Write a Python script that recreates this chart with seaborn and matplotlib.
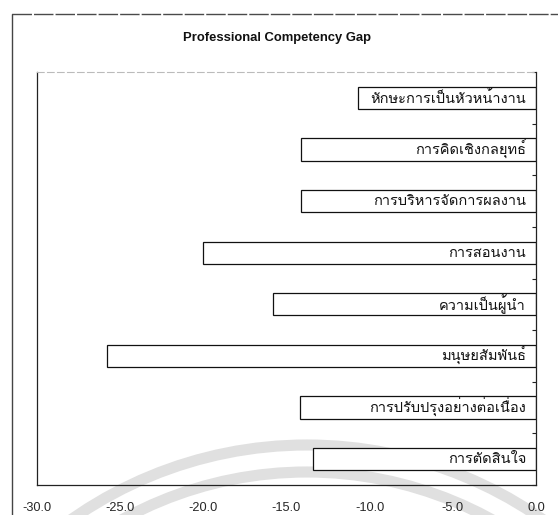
import matplotlib
matplotlib.use("Agg")
import matplotlib.pyplot as plt
from matplotlib import font_manager
from matplotlib.ft2font import FT2Font
from matplotlib.patches import Arc
from matplotlib.lines import Line2D
import seaborn as sns
import pandas as pd

# Competency gap per skill (negative = shortfall), listed top to bottom
categories = [
    "หักษะการเป็นหัวหน้างาน",
    "การคิดเชิงกลยุทธ์",
    "การบริหารจัดการผลงาน",
    "การสอนงาน",
    "ความเป็นผู้นำ",
    "มนุษยสัมพันธ์",
    "การปรับปรุงอย่างต่อเนื่อง",
    "การตัดสินใจ",
]
gaps = [-10.7, -14.1, -14.1, -20.0, -15.8, -25.8, -14.2, -13.4]
x_ticks = [-30.0, -25.0, -20.0, -15.0, -10.0, -5.0, 0.0]
title = "Professional Competency Gap"


def find_thai_families():
    found = []
    for f in font_manager.fontManager.ttflist:
        try:
            if 0x0E01 in FT2Font(f.fname).get_charmap() and f.name not in found:
                found.append(f.name)
        except Exception:
            pass
    return found


thai_fams = find_thai_families()

sns.set_theme(style="white")
plt.rcParams["font.family"] = thai_fams + ["Liberation Sans", "DejaVu Sans"]

df = pd.DataFrame({"skill": categories, "gap": gaps})

W, H = 558, 515
fig = plt.figure(figsize=(W / 100, H / 100), dpi=100)
fig.patch.set_facecolor("white")

# background layer in pixel coordinates for the page decorations
bg = fig.add_axes([0, 0, 1, 1], zorder=-5)
bg.set_xlim(0, W)
bg.set_ylim(H, 0)
bg.axis("off")
for r in (410, 383):
    bg.add_patch(Arc((307, 855), 2 * r, 2 * r, theta1=180, theta2=360,
                     color="#e0e0e0", lw=8, zorder=0))
bg.add_line(Line2D([12, 12], [14, H], color="#444444", lw=1.0))
bg.add_line(Line2D([12, W], [14, 14], color="#4a4a4a", lw=1.0, ls=(0, (14, 1.5))))
bg.text(277, 38, title, ha="center", va="center", fontsize=9.4,
        fontweight="bold", family=["Liberation Sans", "DejaVu Sans"], color="#111111")

left, right, top, bottom = 37, 536, 72, 485
ax = fig.add_axes([left / W, 1 - bottom / H, (right - left) / W, (bottom - top) / H])
ax.patch.set_alpha(0)

sns.barplot(data=df, x="gap", y="skill", orient="h", ax=ax, width=0.43,
            color="white", edgecolor="#111111", linewidth=0.9, saturation=1)

for i, lab in enumerate(categories):
    ax.text(-0.6, i, lab, ha="right", va="center", fontsize=10.5, color="#111111")

ax.set_xlim(-30, 0)
ax.set_ylim(7.5, -0.5)
ax.set_xticks(x_ticks)
ax.set_xticklabels([f"{t:.1f}" for t in x_ticks], fontsize=9.2,
                   family=["Liberation Sans", "DejaVu Sans"])
ax.tick_params(axis="x", direction="out", length=4, width=0.8, color="#222222", pad=8)
ax.set_xlabel("")
ax.set_ylabel("")

ax.yaxis.tick_right()
ax.set_yticks([i + 0.5 for i in range(-1, 8)])
ax.set_yticklabels([])
ax.tick_params(axis="y", direction="in", length=3, width=0.8, color="#222222")

for side in ("left", "right", "bottom"):
    ax.spines[side].set_visible(True)
    ax.spines[side].set_color("#222222")
    ax.spines[side].set_linewidth(0.9)
ax.spines["top"].set_color("#bbbbbb")
ax.spines["top"].set_linewidth(0.8)
ax.spines["top"].set_linestyle((0, (6, 3)))

fig.savefig("out.png", dpi=100)
